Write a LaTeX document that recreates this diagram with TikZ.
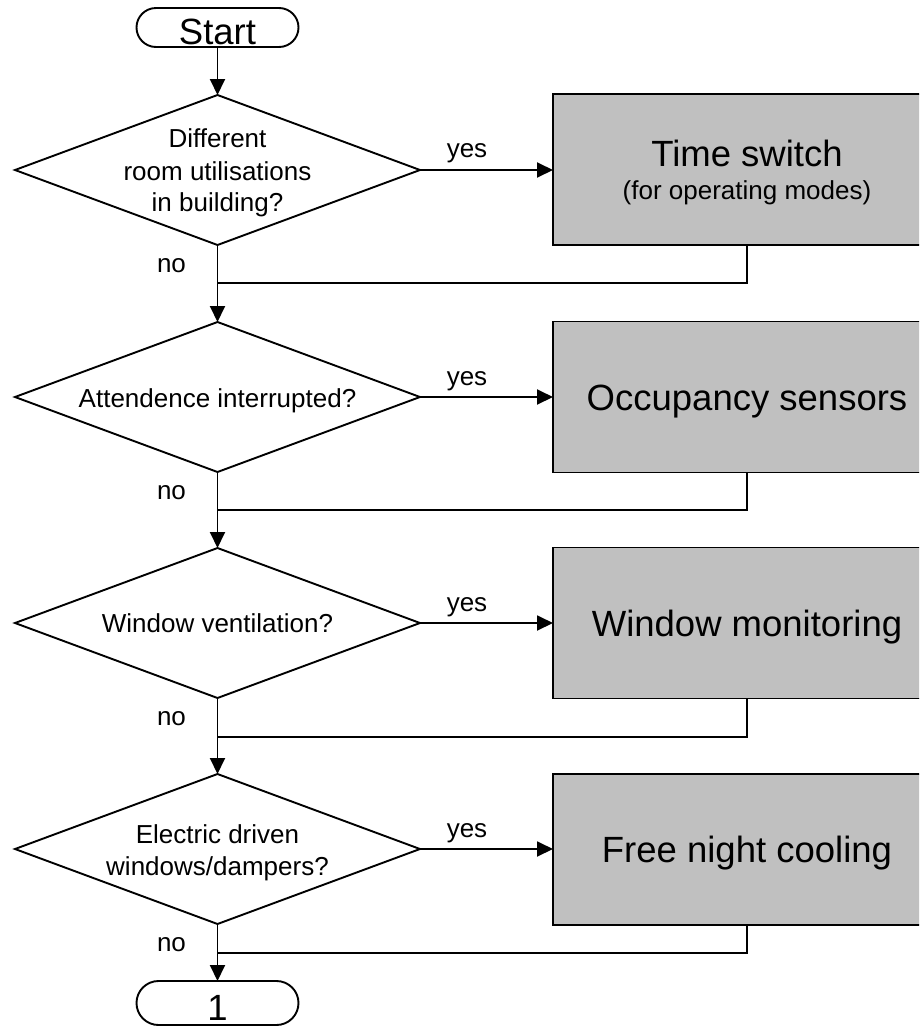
\documentclass[tikz,border=0pt]{standalone}
\usepackage{fontspec}
\setmainfont{Liberation Sans}
\usetikzlibrary{shapes.geometric, arrows.meta, calc}
\definecolor{boxgray}{HTML}{C0C0C0}

\begin{document}
\begin{tikzpicture}[x=1pt, y=-1pt, line width=1.9pt,
  flow/.style={-{Triangle[length=16pt,width=15pt]}},
  decision/.style={draw, shape=diamond, minimum width=405pt, minimum height=150pt,
    inner sep=0pt, outer sep=0pt},
  action/.style={draw, fill=boxgray, minimum width=388pt, minimum height=151pt,
    inner sep=0pt, outer sep=0pt},
  terminal/.style={draw, rectangle, minimum width=162pt, inner sep=0pt, outer sep=0pt},
  big/.style={font=\fontsize{36.5}{40}\selectfont, anchor=base, inner sep=0pt},
  small/.style={font=\fontsize{26}{32}\selectfont, anchor=base, inner sep=0pt},
]
\useasboundingbox (0,0) rectangle (919,1026);
\clip (0,0) rectangle (919,1026);

% terminals
\node[terminal, minimum height=39pt, rounded corners=19.5pt] (start) at (217.5,27.5) {};
\node[big] (startlbl) at ($(start.center)+(0,17)$) {Start};
\node[terminal, minimum height=44pt, rounded corners=22pt] (cont) at (217.5,1003) {};
\node[big] (contlbl) at ($(cont.center)+(0,17)$) {1};

% decisions
\node[decision] (d1) at (217.5,170) {};
\node[decision] (d2) at (217.5,397) {};
\node[decision] (d3) at (217.5,623) {};
\node[decision] (d4) at (217.5,849) {};

\node[small] (d1a) at ($(d1.center)+(0,-23)$) {Different};
\node[small] (d1b) at ($(d1.center)+(0,10)$) {room utilisations};
\node[small] (d1c) at ($(d1.center)+(0,41)$) {in building?};
\node[small] (d2a) at ($(d2.center)+(0,10)$) {Attendence interrupted?};
\node[small] (d3a) at ($(d3.center)+(0,9)$) {Window ventilation?};
\node[small] (d4a) at ($(d4.center)+(0,-6)$) {Electric driven};
\node[small] (d4b) at ($(d4.center)+(0,26)$) {windows/dampers?};

% actions
\node[action] (b1) at (747,169.5) {};
\node[action] (b2) at (747,397) {};
\node[action] (b3) at (747,623) {};
\node[action] (b4) at (747,849.5) {};

\node[big] (b1a) at ($(b1.center)+(0,-3)$) {Time switch};
\node[small] (b1b) at ($(b1.center)+(0,30)$) {(for operating modes)};
\node[big] (b2a) at ($(b2.center)+(0,13)$) {Occupancy sensors};
\node[big] (b3a) at ($(b3.center)+(0,13)$) {Window monitoring};
\node[big] (b4a) at ($(b4.center)+(0,13)$) {Free night cooling};

% junctions where the action branches rejoin the main line
\coordinate (j1) at (217.5,283);
\coordinate (j2) at (217.5,510);
\coordinate (j3) at (217.5,737);
\coordinate (j4) at (217.5,953);

% main line
\draw[flow] (start.south) -- (d1.north);
\draw[flow] (d1.south) -- (d2.north);
\draw[flow] (d2.south) -- (d3.north);
\draw[flow] (d3.south) -- (d4.north);
\draw[flow] (d4.south) -- (cont.north);

% yes branches
\draw[flow] (d1.east) -- (b1.west |- d1.east);
\draw[flow] (d2.east) -- (b2.west);
\draw[flow] (d3.east) -- (b3.west);
\draw[flow] (d4.east) -- (b4.west |- d4.east);

% returns
\draw (b1.south) |- (j1);
\draw (b2.south) |- (j2);
\draw (b3.south) |- (j3);
\draw (b4.south) |- (j4);

% branch labels
\node[small] (y1) at ($(d1.east)+(47,-13)$) {yes};
\node[small] (y2) at ($(d2.east)+(47,-12)$) {yes};
\node[small] (y3) at ($(d3.east)+(47,-12)$) {yes};
\node[small] (y4) at ($(d4.east)+(47,-12)$) {yes};
\node[small] (n1) at ($(d1.south)+(-46,27)$) {no};
\node[small] (n2) at ($(d2.south)+(-46,27)$) {no};
\node[small] (n3) at ($(d3.south)+(-46,27)$) {no};
\node[small] (n4) at ($(d4.south)+(-46,27)$) {no};
\end{tikzpicture}
\end{document}
